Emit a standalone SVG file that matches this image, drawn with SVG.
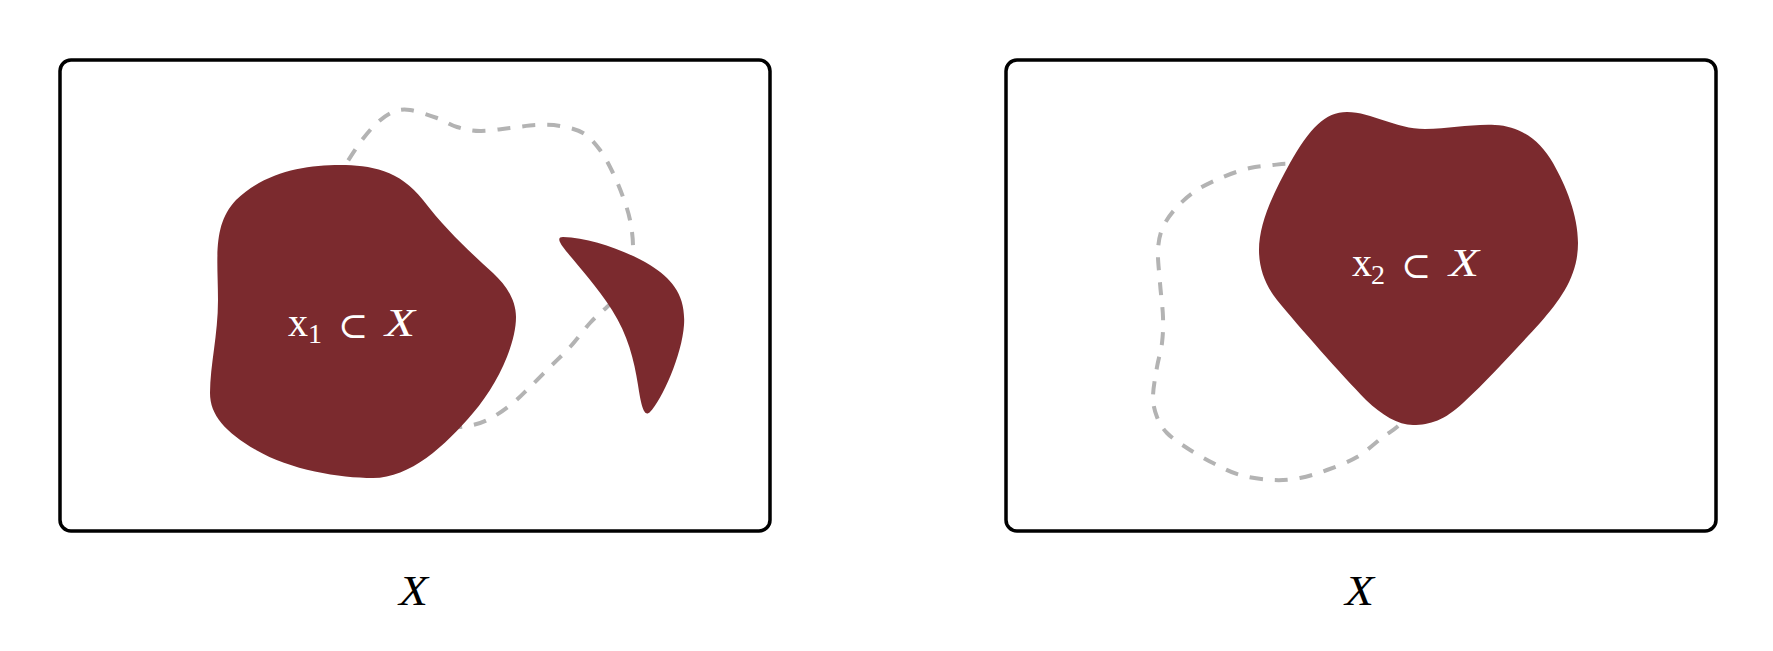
<svg xmlns="http://www.w3.org/2000/svg" width="1773" height="651" viewBox="0 0 1773 651">
<style>
.frame{fill:none;stroke:#000;stroke-width:3.5}
.blob{fill:#7b2a2e;stroke:none}
.dash{fill:none;stroke:#b3b3b3;stroke-width:4;stroke-dasharray:13 12}
.lbl{fill:#fff;font-family:"Liberation Serif","DejaVu Serif",serif;font-size:40px}
.sub{font-size:28px}
.sym{font-family:"DejaVu Serif",serif;font-size:36px}
.it{font-style:italic;font-size:41px}
.cap{fill:#000;font-family:"Liberation Serif","DejaVu Serif",serif;font-style:italic;font-size:43px}
</style>
<rect width="1773" height="651" fill="#fff"/>
<g id="panel-left">
<rect class="frame" x="60" y="60" width="710" height="471" rx="11"/>
</g>
<g id="panel-right">
<rect class="frame" x="1006" y="60" width="710" height="471" rx="11"/>
</g>
<g id="connectors">
<path id="dash-left" class="dash" d="M336,182 L346,164 C350.3,157 356.8,146.8 362,140 C367.2,133.2 371.8,127.7 377,123 C382.2,118.3 387.5,114.2 393,112 C398.5,109.8 402.7,109 410,110 C417.3,111 429.2,115.2 437,118 C444.8,120.8 449.8,124.8 457,127 C464.2,129.2 471.2,130.8 480,131 C488.8,131.2 500.5,129 510,128 C519.5,127 528.7,125.3 537,125 C545.3,124.7 552.3,124.7 560,126 C567.7,127.3 576.3,129 583,133 C589.7,137 595,143.3 600,150 C605,156.7 609.2,165.2 613,173 C616.8,180.8 620.2,189.2 623,197 C625.8,204.8 628.3,211.7 630,220 C631.7,228.3 633,237.8 633,247 C633,256.2 632.2,267 630,275 C627.8,283 623.8,289.7 620,295 C616.2,300.3 612,302.3 607,307 C602,311.7 596.2,316.3 590,323 C583.8,329.7 576.7,339.7 570,347 C563.3,354.3 556.7,360.3 550,367 C543.3,373.7 536.2,381 530,387 C523.8,393 519.2,398 513,403 C506.8,408 499.7,413.3 493,417 C486.3,420.7 481,423.2 473,425 C465,426.8 455,428 445,428"/>
<path id="dash-right" class="dash" d="M1310,168 L1291,164 C1284.8,163.5 1279.8,164.3 1273,165 C1266.2,165.7 1258.3,166 1250,168 C1241.7,170 1231.8,173.3 1223,177 C1214.2,180.7 1204.7,185 1197,190 C1189.3,195 1182.7,200.8 1177,207 C1171.3,213.2 1166.2,219.8 1163,227 C1159.8,234.2 1158.5,240.7 1158,250 C1157.5,259.3 1159.2,271.8 1160,283 C1160.8,294.2 1162.7,307 1163,317 C1163.3,327 1163,334.7 1162,343 C1161,351.3 1158.5,358 1157,367 C1155.5,376 1153,388.7 1153,397 C1153,405.3 1154.7,411 1157,417 C1159.3,423 1162,427.8 1167,433 C1172,438.2 1179.3,443 1187,448 C1194.7,453 1204.2,458.5 1213,463 C1221.8,467.5 1230,472.2 1240,475 C1250,477.8 1263,479.5 1273,480 C1283,480.5 1291,479.7 1300,478 C1309,476.3 1317.5,473.5 1327,470 C1336.5,466.5 1347.7,462.5 1357,457 C1366.3,451.5 1376.3,442 1383,437 C1389.7,432 1391.7,431.5 1397,427 C1402.3,422.5 1410,414 1415,410"/>
</g>
<g id="blob-x1-main">
<path class="blob" d="M340,165 C370,165 400,170 423,200 C445,229 470,252 493,273 C506,285 516,300 516,317 C516,345 497,385 473,413 C445,446 410,478 373,478 C340,478 290,470 256,450 C225,432 210,415 210,393 C210,365 218,335 218,300 C218,260 212,225 236,200 C265,172 305,165 340,165 Z"/>
<g class="lbl">
<text x="288" y="336">x</text>
<text class="sub" x="308" y="343">1</text>
<text class="sym" x="338" y="338">⊂</text>
<text class="it" x="385" y="336" textLength="30" lengthAdjust="spacingAndGlyphs">X</text>
</g>
</g>
<g id="blob-x1-small">
<path class="blob" d="M563,237 C590,238 625,250 650,265 C672,279 686,295 684,325 C682,355 662,400 650,412 C644,418 641,405 638,385 C634,360 628,335 612,310 C595,283 570,257 563,247 C558,240 558,237 563,237 Z"/>
</g>
<g id="blob-x2">
<path class="blob" d="M1347,112 C1372,112 1395,129 1425,129 C1450,129 1470,124 1495,125 C1520,126 1540,140 1553,163 C1566,186 1578,215 1578,243 C1578,275 1562,298 1540,323 C1515,350 1490,378 1463,403 C1445,420 1430,425 1413,425 C1398,425 1382,415 1366,400 C1340,373 1300,328 1277,300 C1265,285 1259,268 1259,250 C1259,222 1275,190 1290,163 C1310,128 1325,112 1347,112 Z"/>
<g class="lbl">
<text x="1352" y="276">x</text>
<text class="sub" x="1371" y="283.5">2</text>
<text class="sym" x="1401" y="278">⊂</text>
<text class="it" x="1449" y="276" textLength="30" lengthAdjust="spacingAndGlyphs">X</text>
</g>
</g>
<g id="caption-left"><text class="cap" x="399" y="605" textLength="29" lengthAdjust="spacingAndGlyphs">X</text></g>
<g id="caption-right"><text class="cap" x="1345" y="605" textLength="29" lengthAdjust="spacingAndGlyphs">X</text></g>
</svg>
